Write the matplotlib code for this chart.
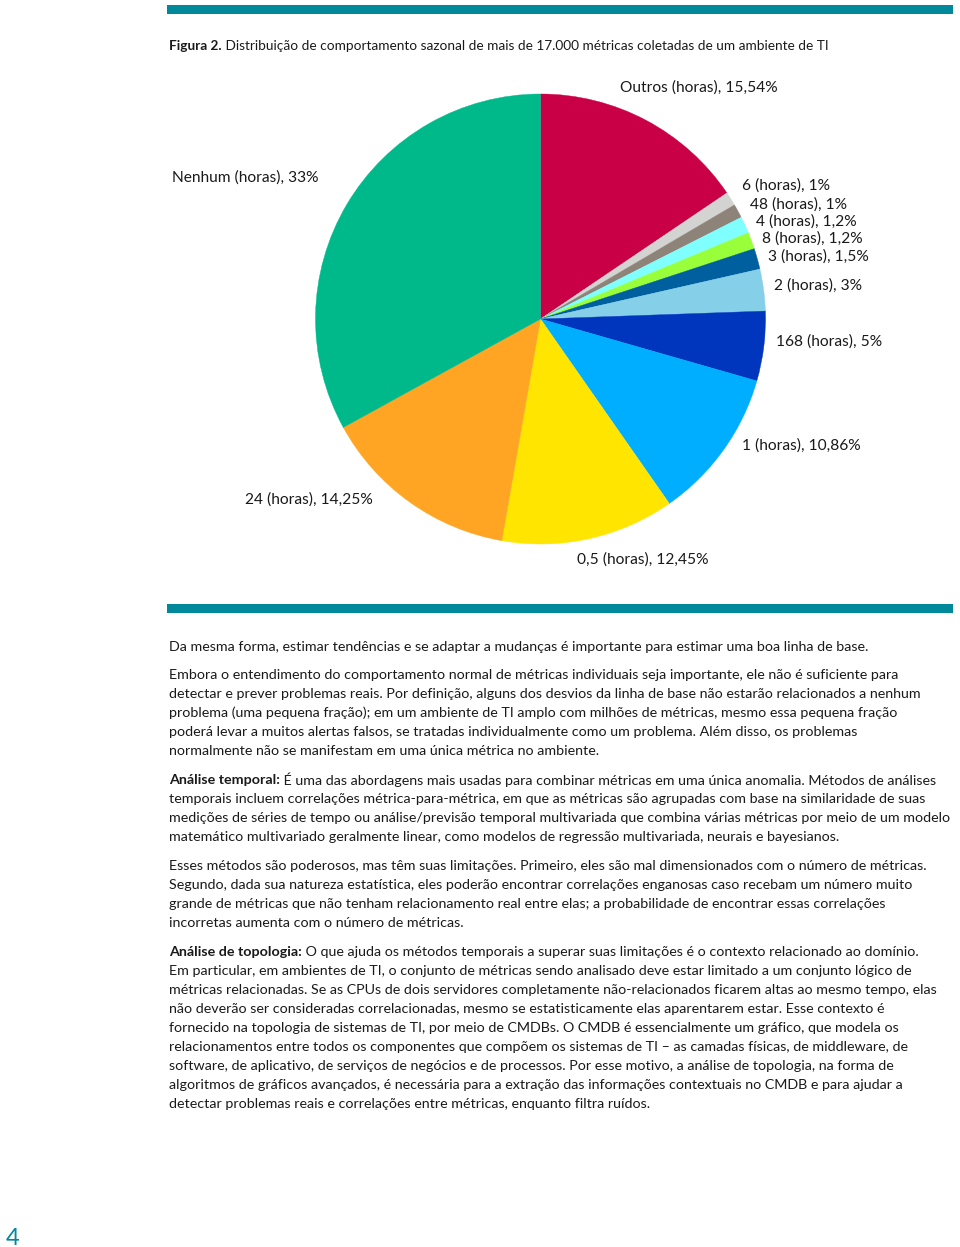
import matplotlib
matplotlib.use('Agg')
import matplotlib.pyplot as plt
from matplotlib.patches import Rectangle

# ---------------- data ----------------
categories = ["Outros (horas)", "6 (horas)", "48 (horas)", "4 (horas)", "8 (horas)",
              "3 (horas)", "2 (horas)", "168 (horas)", "1 (horas)", "0,5 (horas)",
              "24 (horas)", "Nenhum (horas)"]
values = [15.54, 1, 1, 1.2, 1.2, 1.5, 3, 5, 10.86, 12.45, 14.25, 33]
value_labels = ["15,54%", "1%", "1%", "1,2%", "1,2%", "1,5%", "3%", "5%",
                "10,86%", "12,45%", "14,25%", "33%"]
colors = ["#CA0046", "#D3D3D1", "#8E8379", "#80FFFF", "#99FF3A", "#005F9E",
          "#85CFE8", "#0035BE", "#00AEFF", "#FFE500", "#FFA423", "#00B98A"]
# label anchor (left x, center y) in page pixels
label_pos = [(620, 88), (742, 186), (750, 205), (756, 222), (762, 239), (768, 257),
             (774, 286), (776, 342), (742, 446), (577, 560), (245, 500), (172, 178)]

title_bold = "Figura 2."
title_rest = " Distribuição de comportamento sazonal de mais de 17.000 métricas coletadas de um ambiente de TI"

paragraphs = [
    (None, ["Da mesma forma, estimar tendências e se adaptar a mudanças é importante para estimar uma boa linha de base."]),
    (None, ["Embora o entendimento do comportamento normal de métricas individuais seja importante, ele não é suficiente para",
            "detectar e prever problemas reais. Por definição, alguns dos desvios da linha de base não estarão relacionados a nenhum",
            "problema (uma pequena fração); em um ambiente de TI amplo com milhões de métricas, mesmo essa pequena fração",
            "poderá levar a muitos alertas falsos, se tratadas individualmente como um problema. Além disso, os problemas",
            "normalmente não se manifestam em uma única métrica no ambiente."]),
    ("Análise temporal:", [" É uma das abordagens mais usadas para combinar métricas em uma única anomalia. Métodos de análises",
            "temporais incluem correlações métrica-para-métrica, em que as métricas são agrupadas com base na similaridade de suas",
            "medições de séries de tempo ou análise/previsão temporal multivariada que combina várias métricas por meio de um modelo",
            "matemático multivariado geralmente linear, como modelos de regressão multivariada, neurais e bayesianos."]),
    (None, ["Esses métodos são poderosos, mas têm suas limitações. Primeiro, eles são mal dimensionados com o número de métricas.",
            "Segundo, dada sua natureza estatística, eles poderão encontrar correlações enganosas caso recebam um número muito",
            "grande de métricas que não tenham relacionamento real entre elas; a probabilidade de encontrar essas correlações",
            "incorretas aumenta com o número de métricas."]),
    ("Análise de topologia:", [" O que ajuda os métodos temporais a superar suas limitações é o contexto relacionado ao domínio.",
            "Em particular, em ambientes de TI, o conjunto de métricas sendo analisado deve estar limitado a um conjunto lógico de",
            "métricas relacionadas. Se as CPUs de dois servidores completamente não-relacionados ficarem altas ao mesmo tempo, elas",
            "não deverão ser consideradas correlacionadas, mesmo se estatisticamente elas aparentarem estar. Esse contexto é",
            "fornecido na topologia de sistemas de TI, por meio de CMDBs. O CMDB é essencialmente um gráfico, que modela os",
            "relacionamentos entre todos os componentes que compõem os sistemas de TI – as camadas físicas, de middleware, de",
            "software, de aplicativo, de serviços de negócios e de processos. Por esse motivo, a análise de topologia, na forma de",
            "algoritmos de gráficos avançados, é necessária para a extração das informações contextuais no CMDB e para ajudar a",
            "detectar problemas reais e correlações entre métricas, enquanto filtra ruídos."]),
]
para_start_y = [647, 675, 780, 866, 952]
page_number = "4"

# ---------------- layout ----------------
W, H = 960, 1247
FONT = ['Lato', 'DejaVu Sans']
TEAL = '#00889B'
TXT = '#1A1A1A'

fig = plt.figure(figsize=(W / 100, H / 100), dpi=100)
page = fig.add_axes([0, 0, 1, 1])
page.set_xlim(0, W)
page.set_ylim(H, 0)
page.axis('off')

fig.canvas.draw()
renderer = fig.canvas.get_renderer()


def width_px(s, size, weight='normal'):
    t = page.text(0, 0, s, fontsize=size, family=FONT, weight=weight)
    w = t.get_window_extent(renderer).width
    t.remove()
    return w


# teal bars
page.add_patch(Rectangle((167, 5), 786, 9, color=TEAL, lw=0))
page.add_patch(Rectangle((167, 604), 786, 9, color=TEAL, lw=0))

# title
tsize = 10 * 657 / width_px(title_bold + title_rest, 10)
tb = page.text(169, 46, title_bold, fontsize=tsize, family=FONT, weight='bold',
               color=TXT, va='center')
wb = tb.get_window_extent(renderer).width
page.text(169 + wb, 46, title_rest, fontsize=tsize, family=FONT, color=TXT, va='center')

# pie
R = 225
cx, cy = 540.5, 319
pie_ax = fig.add_axes([(cx - R) / W, (H - cy - R) / H, 2 * R / W, 2 * R / H])
wedges, _ = pie_ax.pie(values, colors=colors, startangle=90, counterclock=False, radius=1)
for w in wedges:
    w.set_edgecolor(w.get_facecolor())
    w.set_linewidth(0.3)
pie_ax.set_xlim(-1, 1)
pie_ax.set_ylim(-1, 1)
pie_ax.axis('off')

lsize = 10 * 158 / width_px("Outros (horas), 15,54%", 10)
for cat, vl, (px, py) in zip(categories, value_labels, label_pos):
    page.text(px, py, f"{cat}, {vl}", fontsize=lsize, family=FONT, color=TXT,
              va='center', ha='left')

# body text: size calibrated against the widths of a few reference lines
calib = [(paragraphs[1][1][1], 771), (paragraphs[2][1][2], 753),
         (paragraphs[3][1][0], 764), (paragraphs[4][1][2], 778)]
ratios = [tw / width_px(s, 10) for s, tw in calib]
bsize = 10 * sum(ratios) / len(ratios)
LS = 19
for (bold, lines), y0 in zip(paragraphs, para_start_y):
    for i, line in enumerate(lines):
        y = y0 + i * LS
        x = 169
        if i == 0 and bold:
            t = page.text(x, y, bold, fontsize=bsize, family=FONT, weight='bold',
                          color=TXT, va='center')
            x += t.get_window_extent(renderer).width
        page.text(x, y, line, fontsize=bsize, family=FONT, color=TXT, va='center')

page.text(6, 1245, page_number, fontsize=17, family=FONT, color=TEAL, va='baseline')

fig.savefig('out.png', dpi=100)
